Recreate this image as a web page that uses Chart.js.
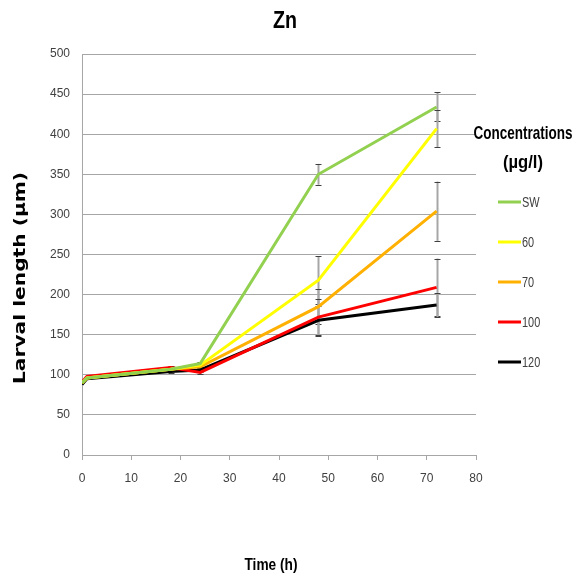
<!DOCTYPE html>
<html lang="en">
<head>
  <meta charset="UTF-8">
  <title>Zn</title>
  <style>
    html, body { margin: 0; padding: 0; background: #fff; }
    #wrap { width: 577px; height: 584px; position: relative; }
  </style>
</head>
<body>
  <div id="wrap">
    <canvas id="grafico" width="577" height="584"></canvas>
  </div>

  <script src="https://cdn.jsdelivr.net/npm/chart.js"></script>

  <script>
    // time points (h)
    const horas = [0, 1, 18, 24, 48, 72];

    const series = ["SW", "60", "70", "100", "120"];
    const colores = ["#92d050", "#ffff00", "#ffb000", "#ff0000", "#000000"];

    const valSW  = [90, 96, 107, 114, 350, 434];
    const val60  = [90, 96, 107, 112, 218, 407];
    const val70  = [90, 96, 107, 110, 185, 304];
    const val100 = [91, 98, 109, 103, 172, 209];
    const val120 = [88, 95, 104, 106, 168, 187];

    const errSW  = [0, 0, 2, 2, 13, 18];
    const err60  = [0, 0, 2, 2, 30, 23];
    const err70  = [0, 0, 2, 2, 22, 37];
    const err100 = [0, 0, 2, 2, 23, 36];
    const err120 = [0, 0, 2, 2, 18, 15];

    const valores = [valSW, val60, val70, val100, val120];
    const errores = [errSW, err60, err70, err100, err120];

    const yTicks = [0, 50, 100, 150, 200, 250, 300, 350, 400, 450, 500];
    const xTicks = [0, 10, 20, 30, 40, 50, 60, 70, 80];

    const sans = '"Liberation Sans", Arial, sans-serif';

    // text squeezed or stretched along its baseline to a given width
    function textoAjustado(ctx, txt, cx, cy, font, ancho) {
      ctx.save();
      ctx.font = font;
      const w = ctx.measureText(txt).width;
      ctx.translate(cx, cy);
      ctx.scale(ancho / w, 1);
      ctx.textAlign = "center";
      ctx.textBaseline = "middle";
      ctx.fillText(txt, 0, 0);
      ctx.restore();
    }

    // error bars, drawn under the lines
    const barrasError = {
      id: "barrasError",
      beforeDatasetsDraw(chart) {
        const ctx = chart.ctx;
        const sx = chart.scales.x, sy = chart.scales.y;
        ctx.save();
        errores.forEach((errs, i) => {
          errs.forEach((e, j) => {
            if (!e) return;
            const px = Math.round(sx.getPixelForValue(horas[j])) + 0.5;
            const top = sy.getPixelForValue(valores[i][j] + e);
            const bot = sy.getPixelForValue(valores[i][j] - e);
            ctx.strokeStyle = "#a6a6a6";
            ctx.lineWidth = 2;
            ctx.beginPath();
            ctx.moveTo(px, top);
            ctx.lineTo(px, bot);
            ctx.stroke();
            ctx.strokeStyle = "#404040";
            ctx.lineWidth = 1;
            ctx.beginPath();
            ctx.moveTo(px - 3, Math.round(top) + 0.5);
            ctx.lineTo(px + 3, Math.round(top) + 0.5);
            ctx.moveTo(px - 3, Math.round(bot) + 0.5);
            ctx.lineTo(px + 3, Math.round(bot) + 0.5);
            ctx.stroke();
          });
        });
        ctx.restore();
      }
    };

    // titles and the legend box on the right
    const textos = {
      id: "textos",
      afterDraw(chart) {
        const ctx = chart.ctx;
        ctx.save();
        ctx.fillStyle = "#000";

        textoAjustado(ctx, "Zn", 285, 21, "bold 24px " + sans, 24);
        textoAjustado(ctx, "Time (h)", 271, 565, "bold 17px " + sans, 53);

        ctx.save();
        ctx.translate(21, 278);
        ctx.rotate(-Math.PI / 2);
        textoAjustado(ctx, "Larval length (µm)", 0, 0, 'bold 16px "DejaVu Sans", Verdana, sans-serif', 212);
        ctx.restore();

        textoAjustado(ctx, "Concentrations", 523, 134, "bold 19px " + sans, 99);
        textoAjustado(ctx, "(µg/l)", 523, 163, "bold 19px " + sans, 40);

        series.forEach((s, i) => {
          const y = 202 + i * 40;
          ctx.strokeStyle = colores[i];
          ctx.lineWidth = 3;
          ctx.beginPath();
          ctx.moveTo(498, y);
          ctx.lineTo(521, y);
          ctx.stroke();
          ctx.fillStyle = "#404040";
          ctx.font = "14px " + sans;
          const w = ctx.measureText(s).width * 0.78;
          textoAjustado(ctx, s, 522 + w / 2, y + 1, "14px " + sans, w);
        });
        ctx.restore();
      }
    };

    document.addEventListener("DOMContentLoaded", () => {
      const lienzo = document.getElementById("grafico");

      new Chart(lienzo, {
        type: "line",
        data: {
          datasets: series.map((s, i) => ({
            label: s,
            data: horas.map((h, j) => ({ x: h, y: valores[i][j] })),
            borderColor: colores[i],
            backgroundColor: colores[i],
            borderWidth: 3,
            pointRadius: 0,
            tension: 0
          }))
        },
        options: {
          responsive: false,
          animation: false,
          layout: { padding: { left: 0, right: 101, top: 54, bottom: 0 } },
          plugins: {
            legend: { display: false },
            tooltip: { enabled: false },
            title: { display: false }
          },
          scales: {
            x: {
              type: "linear",
              min: 0,
              max: 80,
              afterBuildTicks: s => { s.ticks = xTicks.map(v => ({ value: v })); },
              afterFit: s => { s.height = 129; },
              grid: { display: true, drawOnChartArea: false, drawTicks: true, tickLength: 5, color: "#a6a6a6" },
              border: { color: "#a6a6a6" },
              ticks: { color: "#404040", font: { family: sans, size: 12 }, padding: 11, maxRotation: 0 }
            },
            y: {
              min: 0,
              max: 500,
              afterBuildTicks: s => { s.ticks = yTicks.map(v => ({ value: v })); },
              afterFit: s => { s.width = 82; },
              grid: { color: "#a6a6a6", drawTicks: false },
              border: { color: "#a6a6a6" },
              ticks: { color: "#404040", font: { family: sans, size: 12 }, padding: 12 }
            }
          }
        },
        plugins: [barrasError, textos]
      });
    });
  </script>
</body>
</html>
